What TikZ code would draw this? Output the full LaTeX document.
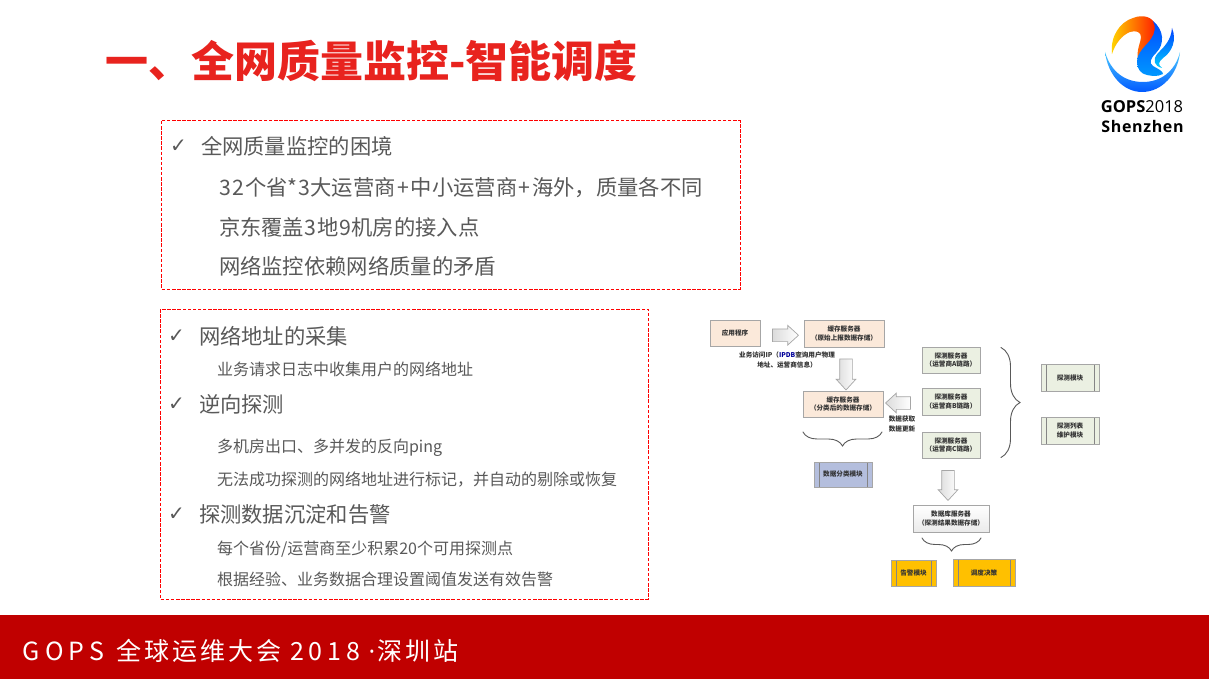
\documentclass[tikz,border=0pt]{standalone}
\usepackage{fontspec}
\setmainfont{Noto Sans CJK SC}
\newfontfamily\footfont[LetterSpace=12]{Noto Sans CJK SC}
\newfontfamily\footlat[LetterSpace=20]{Noto Sans CJK SC}
\newfontfamily\logofont{Open Sans}
\newfontfamily\logowide[LetterSpace=4]{Open Sans}
\newfontfamily\checkfont{DejaVu Sans}
\usetikzlibrary{shapes.arrows,decorations.pathreplacing,calc}
\definecolor{bodygray}{HTML}{595959}
\definecolor{titlered}{HTML}{E8231E}
\definecolor{footred}{HTML}{C00000}
\definecolor{peach}{HTML}{FBE9DA}
\definecolor{sage}{HTML}{EBF0E2}
\definecolor{lav}{HTML}{B4BEDD}
\definecolor{amber}{HTML}{FFC000}
\definecolor{boxline}{HTML}{A6A6A6}
\newcommand{\pl}{\kern1.6pt+\kern1.6pt}
\newcommand{\dg}[1]{\kern0.6pt#1\kern0.6pt}
\tikzset{
  every node/.style={inner sep=0pt,outer sep=0pt},
  head/.style={anchor=base west,text=bodygray,font=\fontsize{21.3}{24}\selectfont},
  sub/.style={anchor=base west,text=bodygray,font=\fontsize{16}{19}\selectfont},
  tick/.style={anchor=base west,text=bodygray,font=\checkfont\bfseries\fontsize{20}{22}\selectfont},
  dashbox/.style={draw=red,line width=1pt,dash pattern=on 3.5pt off 1.6pt},
  srv/.style={draw=boxline,line width=0.9pt,align=center,text=black!80,font=\bfseries\fontsize{6.6}{8.8}\selectfont},
  pbox/.style={srv,path picture={
     \draw[boxline!80!black,line width=0.6pt]
       ([xshift=5pt]path picture bounding box.north west)--([xshift=5pt]path picture bounding box.south west)
       ([xshift=-5pt]path picture bounding box.north east)--([xshift=-5pt]path picture bounding box.south east);}},
  blockarrow/.style={single arrow,draw=boxline,line width=0.7pt,left color=black!14,right color=white,
     inner sep=6pt,single arrow head extend=3.5pt,single arrow tip angle=85,minimum width=18pt},
  cap9/.style={text=black!80,align=center,font=\bfseries\fontsize{6.6}{9.6}\selectfont},
  bracel/.style={draw=black!65,line width=0.9pt,decorate,line cap=round}
}
\begin{document}
\begin{tikzpicture}[x=1pt,y=-1pt]
\useasboundingbox (0,0) rectangle (1209,679);
\fill[white] (0,0) rectangle (1209,679);
% title
\node[anchor=base west,text=titlered,font=\bfseries\fontsize{43}{48}\selectfont] (title) at (105,78) {一、全网质量监控-智能调度};
% footer
\fill[footred] (0,615) rectangle (1209,679);
\node[anchor=base west,text=white,font=\footfont\fontsize{25}{28}\selectfont] (foot) at (23,660) {\makebox[93pt][l]{\footlat GOPS}\makebox[174pt][l]{全球运维大会}\makebox[77pt][l]{\footlat 2018}\makebox[10pt][c]{\logofont ·}深圳站};
% upper box
\draw[dashbox] (161.5,121) rectangle (740,289);
\node[tick] (t1) at (170,153) {✓};
\node[head] (h1) at (201,155) {全网质量监控的困境};
\node[head] (l1) at (219,195) {\dg{3}\dg{2}个省*\dg{3}大运营商\pl 中小运营商\pl 海外，质量各不同};
\node[head] (l2) at (219,235) {京东覆盖\dg{3}地\dg{9}机房的接入点};
\node[head] (l3) at (219,274) {网络监控依赖网络质量的矛盾};
% lower box
\draw[dashbox] (160,309) rectangle (648,599);
\node[tick] (t2) at (168,342) {✓};
\node[head] (h2) at (199,344) {网络地址的采集};
\node[sub] (s1) at (217,375) {业务请求日志中收集用户的网络地址};
\node[tick] (t3) at (168,410) {✓};
\node[head] (h3) at (199,412) {逆向探测};
\node[sub] (s2) at (217,452) {多机房出口、多并发的反向ping};
\node[sub] (s3) at (217,485) {无法成功探测的网络地址进行标记，并自动的剔除或恢复};
\node[tick] (t4) at (168,520) {✓};
\node[head] (h4) at (199,522) {探测数据沉淀和告警};
\node[sub] (s4) at (217,554) {每个省份/运营商至少积累20个可用探测点};
\node[sub] (s5) at (217,585) {根据经验、业务数据合理设置阈值发送有效告警};
% diagram nodes
\node[srv,fill=peach,minimum width=50pt,minimum height=26pt] (app) at (735,333) {应用程序};
\node[srv,fill=peach,minimum width=80pt,minimum height=27pt] (c1) at (844,333.5) {缓存服务器\\（原始上报数据存储）};
\node[srv,fill=peach,minimum width=80pt,minimum height=26pt] (c2) at (843,404) {缓存服务器\\（分类后的数据存储）};
\node[pbox,fill=lav,minimum width=58pt,minimum height=25pt] (cls) at (843,474.5) {数据分类模块};
\node[srv,fill=sage,minimum width=58pt,minimum height=26pt] (pa) at (951,360) {探测服务器\\（运营商A链路）};
\node[srv,fill=sage,minimum width=58pt,minimum height=27pt] (pb) at (951,401.5) {探测服务器\\（运营商B链路）};
\node[srv,fill=sage,minimum width=58pt,minimum height=26pt] (pc) at (951,445) {探测服务器\\（运营商C链路）};
\node[pbox,fill=sage,minimum width=58pt,minimum height=27pt] (pm) at (1070,377.5) {探测模块};
\node[pbox,fill=sage,minimum width=58pt,minimum height=27pt] (pl) at (1070,430.5) {探测列表\\维护模块};
\node[srv,top color=white,bottom color=black!8,minimum width=76pt,minimum height=27pt] (db) at (951,518.5) {数据库服务器\\（探测结果数据存储）};
\node[pbox,fill=amber,minimum width=45pt,minimum height=26pt] (alarm) at (913.5,573) {告警模块};
\node[pbox,fill=amber,minimum width=62pt,minimum height=27pt] (sched) at (984,572.5) {调度决策};
\node[cap9] (cap1) at (787,360) {业务访问IP（\textcolor{blue!60!black}{IPDB}查询用户物理\\地址、运营商信息）};
\node[cap9] (cap2) at (902,424) {数据获取\\数据更新};
% block arrows
\node[blockarrow,minimum height=26pt] (a1) at ($(app.east)!.5!(c1.west)+(0,2)$) {};
\node[blockarrow,shape border rotate=270,minimum height=31pt] (a2) at (846,371) {};
\node[blockarrow,shape border rotate=180,minimum height=25pt] (a3) at (901.5,403) {};
\node[blockarrow,shape border rotate=270,minimum height=30pt] (a4) at (948,482) {};
% braces
\coordinate (b1r) at ([yshift=-15pt]c2.south east);
\coordinate (b1l) at ([yshift=-15pt]c2.south west);
\draw[bracel,decoration={brace,amplitude=14pt}] ($(b1r)+(-1,0)$) -- (b1l);
\coordinate (b2t) at (1001,347.5);
\coordinate (b2b) at (1001,457.5);
\draw[bracel,decoration={brace,amplitude=19pt}] (b2t) -- (b2b);
\coordinate (b3r) at (981,538);
\coordinate (b3l) at (922,538);
\draw[bracel,decoration={brace,amplitude=13pt}] (b3r) -- (b3l);
% logo
\begin{scope}
\shade[top color=cyan!70!blue!70,bottom color=blue!65!cyan]
  (1105,52) .. controls (1108,76) and (1124,92) .. (1142,92)
  .. controls (1162,92) and (1178,74) .. (1180,52)
  .. controls (1175,72) and (1160,82) .. (1143,82)
  .. controls (1125,82) and (1111,72) .. (1105,52) -- cycle;
\shade[left color=yellow!70!orange,right color=red!80!orange]
  (1112,54) .. controls (1110,36) and (1120,22) .. (1133,18)
  .. controls (1143,14) and (1153,17) .. (1155,25)
  .. controls (1157,33) and (1152,39) .. (1147,45)
  .. controls (1142,50) and (1139,55) .. (1138,60)
  .. controls (1136,50) and (1141,42) .. (1141,37)
  .. controls (1141,32) and (1136,30) .. (1130,32)
  .. controls (1122,35) and (1115,44) .. (1112,54) -- cycle;
\shade[top color=blue!70!cyan,bottom color=cyan!60!blue]
  (1153,21) .. controls (1164,30) and (1165,44) .. (1156,53)
  .. controls (1150,59) and (1149,63) .. (1153,66)
  .. controls (1158,69) and (1163,71) .. (1163,74)
  .. controls (1157,77) and (1152,76) .. (1147,75)
  .. controls (1141,74) and (1137,69) .. (1137,62)
  .. controls (1137,52) and (1146,46) .. (1151,39)
  .. controls (1155,33) and (1156,27) .. (1153,21) -- cycle;
\shade[top color=blue!75!cyan,bottom color=cyan!80!blue]
  (1172,28) .. controls (1177,40) and (1172,52) .. (1163,58)
  .. controls (1158,62) and (1158,65) .. (1162,68)
  .. controls (1154,66) and (1152,60) .. (1158,53)
  .. controls (1165,46) and (1171,40) .. (1172,28) -- cycle;
\end{scope}
\node[anchor=base,text=black,font=\logofont\fontsize{16.5}{18}\selectfont] (logo1) at (1142,113) {\textbf{GOPS}2018};
\node[anchor=base,text=black,font=\logowide\bfseries\fontsize{16}{18}\selectfont] (logo2) at (1142.5,133) {Shenzhen};
\end{tikzpicture}
\end{document}
